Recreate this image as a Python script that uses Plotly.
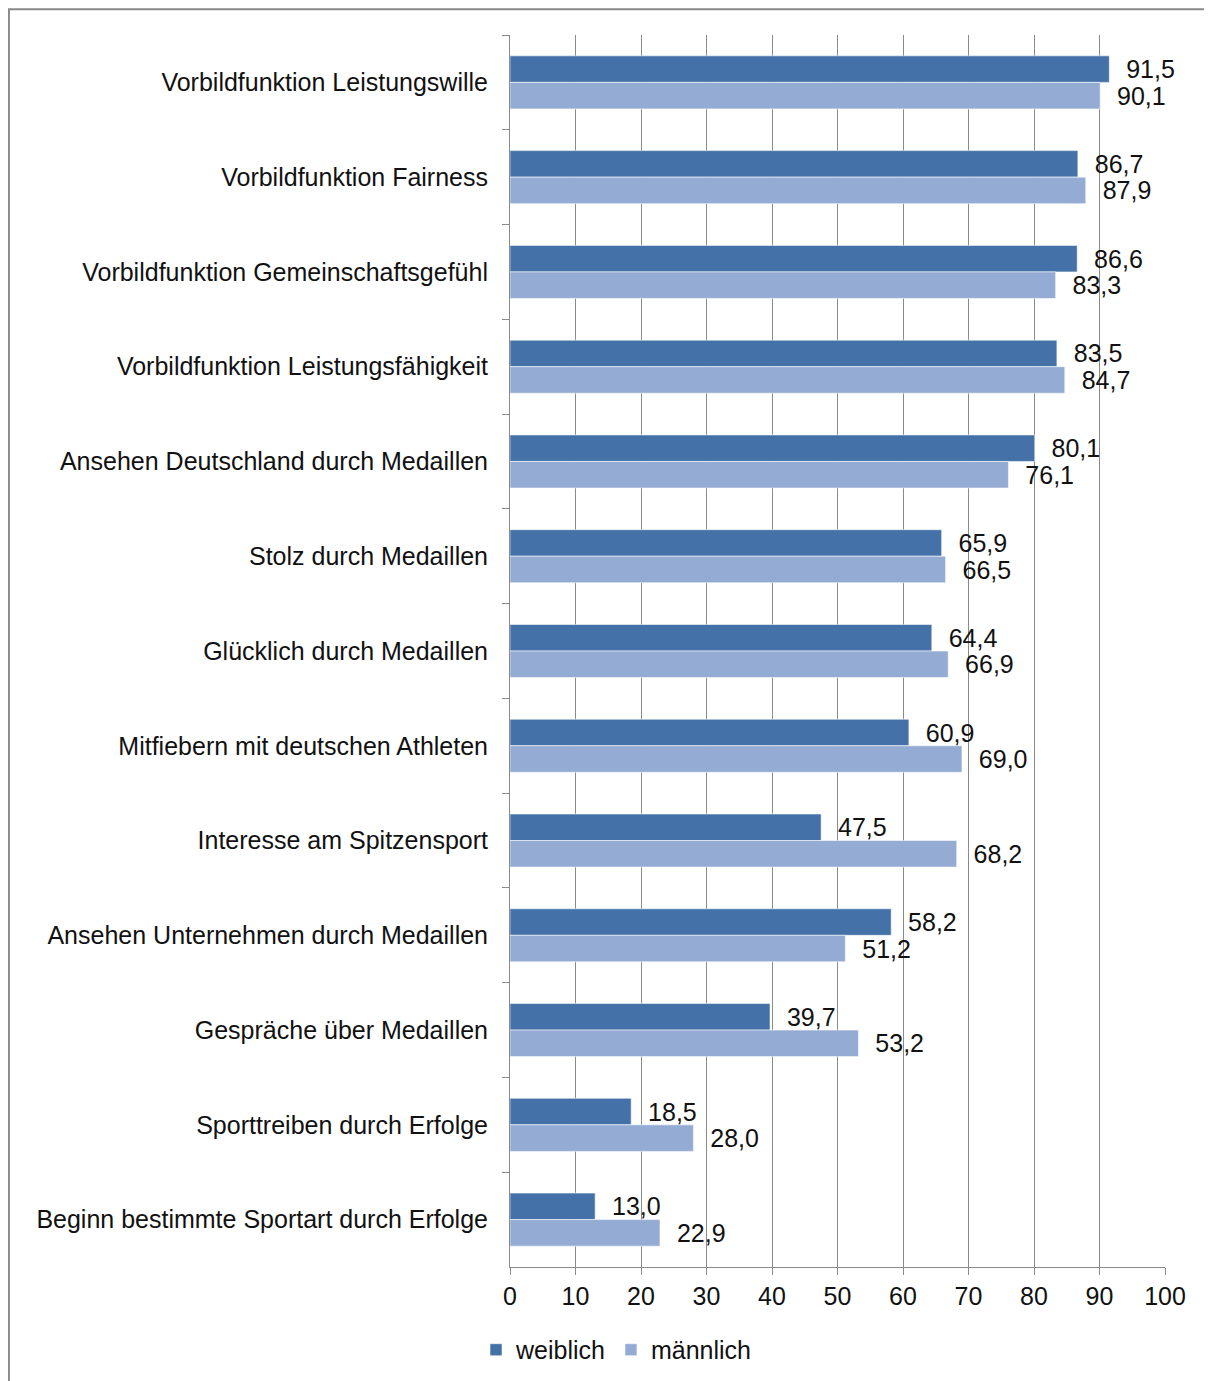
import plotly.graph_objects as go

# categories top to bottom
categories = [
    "Vorbildfunktion Leistungswille",
    "Vorbildfunktion Fairness",
    "Vorbildfunktion Gemeinschaftsgefühl",
    "Vorbildfunktion Leistungsfähigkeit",
    "Ansehen Deutschland durch Medaillen",
    "Stolz durch Medaillen",
    "Glücklich durch Medaillen",
    "Mitfiebern mit deutschen Athleten",
    "Interesse am Spitzensport",
    "Ansehen Unternehmen durch Medaillen",
    "Gespräche über Medaillen",
    "Sporttreiben durch Erfolge",
    "Beginn bestimmte Sportart durch Erfolge",
]
weiblich = [91.5, 86.7, 86.6, 83.5, 80.1, 65.9, 64.4, 60.9, 47.5, 58.2, 39.7, 18.5, 13.0]
maennlich = [90.1, 87.9, 83.3, 84.7, 76.1, 66.5, 66.9, 69.0, 68.2, 51.2, 53.2, 28.0, 22.9]
x_ticks = [0, 10, 20, 30, 40, 50, 60, 70, 80, 90, 100]

FONT = "Liberation Sans, Arial, sans-serif"
FS = 25


def fmt(v):
    # german decimal comma, small gap before the label
    return "\u00a0\u00a0" + f"{v:.1f}".replace(".", ",")


fig = go.Figure()
fig.add_trace(go.Bar(
    y=categories, x=weiblich, name="weiblich", orientation="h",
    marker=dict(color="#4472a8", line=dict(color="rgba(255,255,255,0.55)", width=1)),
    text=[fmt(v) for v in weiblich], textposition="outside",
    constraintext="none", cliponaxis=False,
    textfont=dict(size=FS, color="#111111", family=FONT),
))
fig.add_trace(go.Bar(
    y=categories, x=maennlich, name="männlich", orientation="h",
    marker=dict(color="#94abd3", line=dict(color="rgba(255,255,255,0.55)", width=1)),
    text=[fmt(v) for v in maennlich], textposition="outside",
    constraintext="none", cliponaxis=False,
    textfont=dict(size=FS, color="#111111", family=FONT),
))

fig.update_layout(
    width=1204, height=1373,
    margin=dict(l=502, r=47, t=27, b=114),
    barmode="group",
    bargap=0.44,
    bargroupgap=0,
    plot_bgcolor="white",
    paper_bgcolor="white",
    font=dict(family=FONT, size=FS, color="#111111"),
    showlegend=True,
    legend=dict(
        orientation="h", xref="container", x=0.505, xanchor="center",
        yref="container", y=0.0226, yanchor="middle",
        font=dict(size=FS), itemwidth=30, traceorder="normal",
    ),
)

fig.update_xaxes(
    range=[0, 100], tickvals=x_ticks, showgrid=True,
    gridcolor="#8a8a8a", gridwidth=1, zeroline=False,
    showline=True, linecolor="#8a8a8a", linewidth=1,
    ticks="outside", ticklen=7, tickcolor="#8a8a8a",
    tickfont=dict(size=FS), fixedrange=True,
)
fig.update_yaxes(
    autorange="reversed", showgrid=False, zeroline=False,
    showline=True, linecolor="#8a8a8a", linewidth=1,
    ticks="outside", ticklen=7, tickcolor="#8a8a8a",
    tickson="boundaries", ticklabelstandoff=16,
    tickfont=dict(size=FS),
)

# outer frame
fig.add_shape(
    type="rect", xref="paper", yref="paper",
    x0=-0.765, x1=1.2, y0=-0.2, y1=1.021,
    line=dict(color="#8a8a8a", width=2), layer="below",
)

fig.write_html("out.html")
